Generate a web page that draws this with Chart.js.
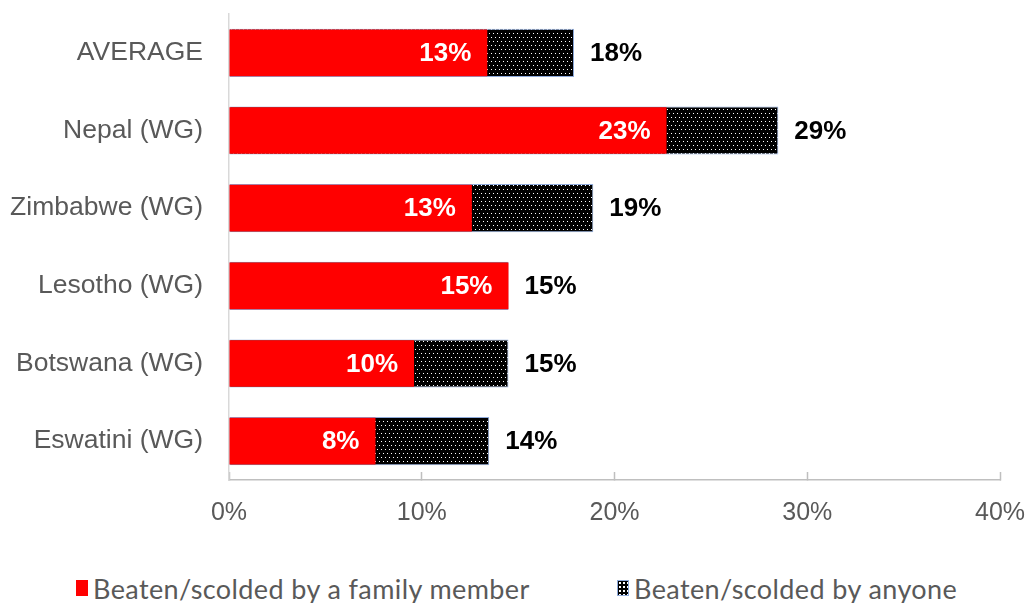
<!DOCTYPE html>
<html>
<head>
<meta charset="utf-8">
<script src="https://cdn.jsdelivr.net/npm/chart.js@4.4.1/dist/chart.umd.min.js"></script>
<style>
  html, body { margin: 0; padding: 0; background: #fff; }
  #wrap { position: relative; width: 1027px; height: 603px; }
  #box { position: absolute; left: 0; top: 0; width: 1027px; height: 560px; }
  .legend { position: absolute; left: 0; top: 574px; width: 1027px; height: 28px;
    font-family: Lato, 'Open Sans', sans-serif; font-size: 27px; letter-spacing: 0.4px; color: #595959; }
  .item { position: absolute; top: 0; height: 28px; display: flex; align-items: center; white-space: nowrap; }
  .sw { width: 12px; height: 16px; margin-right: 5px; box-sizing: border-box; }
  .sw.red { background: #ff0000; }
  .sw.dots { background-color: #000; border: 1px solid #8eaadb;
    background-image: radial-gradient(circle, #fff 0.8px, transparent 1.2px); background-size: 4px 4px; }
</style>
</head>
<body>
<div id="wrap">
  <div id="box"><canvas id="chart"></canvas></div>
  <div class="legend">
    <div class="item" style="left:76px"><span class="sw red"></span><span id="lg0"></span></div>
    <div class="item" style="left:617px"><span class="sw dots"></span><span id="lg1"></span></div>
  </div>
</div>
<script>
const categories = ['AVERAGE', 'Nepal (WG)', 'Zimbabwe (WG)', 'Lesotho (WG)', 'Botswana (WG)', 'Eswatini (WG)'];
const familyValues = [13.4, 22.7, 12.6, 14.5, 9.6, 7.6];
const anyoneValues = [17.9, 28.5, 18.9, 14.5, 14.5, 13.5];
const xTicks = [0, 10, 20, 30, 40];
const seriesNames = ['Beaten/scolded by a family member', 'Beaten/scolded by anyone'];

Chart.defaults.font.family = "'Liberation Sans', Arial, sans-serif";
Chart.defaults.color = '#595959';

document.getElementById('lg0').textContent = seriesNames[0];
document.getElementById('lg1').textContent = seriesNames[1];

// black fill with small white dots, like the excel pattern
function dotPattern() {
  const c = document.createElement('canvas');
  c.width = 8; c.height = 8;
  const g = c.getContext('2d');
  g.fillStyle = '#000';
  g.fillRect(0, 0, 8, 8);
  g.fillStyle = '#fff';
  [[1, 1], [5, 1], [3, 5], [7, 5]].forEach(([x, y]) => g.fillRect(x, y, 1, 1));
  return g.createPattern(c, 'repeat');
}

const barLabels = {
  id: 'barLabels',
  afterDatasetsDraw(chart) {
    const ctx = chart.ctx;
    ctx.save();
    ctx.font = "bold 26px 'Liberation Sans', Arial, sans-serif";
    ctx.textBaseline = 'middle';
    chart.getDatasetMeta(0).data.forEach((bar, i) => {
      ctx.fillStyle = '#fff';
      ctx.textAlign = 'right';
      ctx.fillText(Math.round(familyValues[i]) + '%', bar.x - 16, bar.y + 1);
    });
    chart.getDatasetMeta(1).data.forEach((bar, i) => {
      ctx.fillStyle = '#000';
      ctx.textAlign = 'left';
      ctx.fillText(Math.round(anyoneValues[i]) + '%', bar.x + 16, bar.y + 1);
    });
    ctx.restore();
  }
};

new Chart(document.getElementById('chart'), {
  type: 'bar',
  data: {
    labels: categories,
    datasets: [
      { label: seriesNames[0], data: familyValues, backgroundColor: '#ff0000', borderWidth: 0,
        grouped: false, barPercentage: 0.6, categoryPercentage: 1 },
      { label: seriesNames[1], data: anyoneValues, backgroundColor: dotPattern(),
        borderColor: '#8eaadb', borderWidth: 1, borderSkipped: false,
        grouped: false, barPercentage: 0.62, categoryPercentage: 1 }
    ]
  },
  options: {
    indexAxis: 'y',
    responsive: true, maintainAspectRatio: false,
    animation: false,
    layout: { padding: { top: 14, right: 27, left: 0, bottom: 0 } },
    plugins: { legend: { display: false }, tooltip: { enabled: false } },
    scales: {
      x: {
        min: 0, max: 40,
        afterBuildTicks: s => { s.ticks = xTicks.map(v => ({ value: v })); },
        ticks: { callback: v => v + '%', font: { size: 25 }, padding: 26, maxRotation: 0 },
        grid: { display: true, drawOnChartArea: false, drawTicks: true, tickLength: -8, tickColor: '#bfbfbf', tickWidth: 1.5 },
        border: { color: '#bfbfbf', width: 1.5 },
        afterFit: s => { s.height = 80; s.paddingLeft = 0; s.paddingRight = 0; }
      },
      y: {
        grid: { display: false, drawTicks: false },
        border: { color: '#d9d9d9', width: 1.5 },
        ticks: { font: { size: 26.5 }, padding: 26 },
        afterFit: s => { s.width = 229; s.paddingTop = 0; s.paddingBottom = 0; }
      }
    }
  },
  plugins: [barLabels]
});
</script>
</body>
</html>
